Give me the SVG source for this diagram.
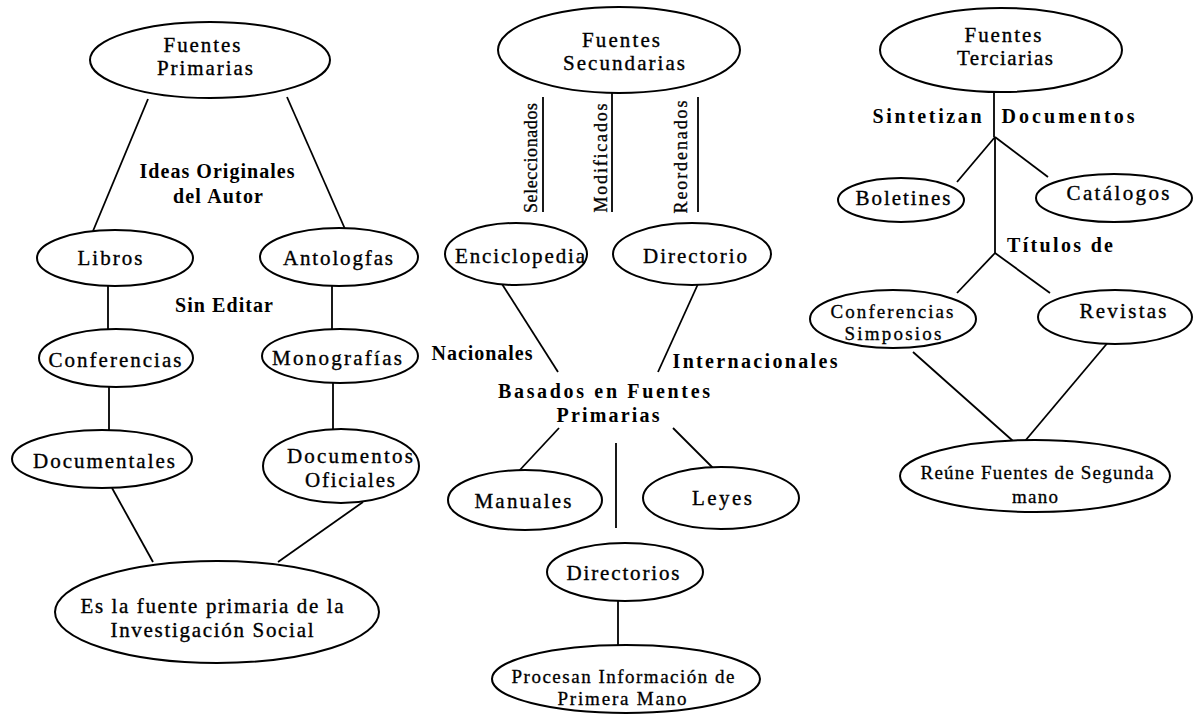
<svg xmlns="http://www.w3.org/2000/svg" width="1193" height="714" viewBox="0 0 1193 714">
<style>
.n ellipse{fill:#fff;stroke:#000;stroke-width:2}
text{font-family:"Liberation Serif","Times New Roman",serif;fill:#000;text-anchor:middle}
.t{font-size:21px;stroke:#000;stroke-width:0.35}
.s{font-size:19px;stroke:#000;stroke-width:0.3}
.b{font-size:20px;font-weight:bold}
.r{font-size:18px;stroke:#000;stroke-width:0.3}
#connectors line{stroke:#000;stroke-width:1.8}
</style>
<rect width="1193" height="714" fill="#fff"/>
<g id="connectors">
<line x1="148" y1="99" x2="93" y2="231"/>
<line x1="287" y1="97" x2="345" y2="229"/>
<line x1="108" y1="286" x2="108" y2="330"/>
<line x1="332" y1="286" x2="332" y2="330"/>
<line x1="109" y1="387" x2="109" y2="431"/>
<line x1="333" y1="382" x2="333" y2="430"/>
<line x1="112" y1="488" x2="153" y2="562"/>
<line x1="363" y1="502" x2="278" y2="562"/>
<line x1="543" y1="97" x2="543" y2="212"/>
<line x1="612" y1="93" x2="612" y2="212"/>
<line x1="698" y1="97" x2="698" y2="212"/>
<line x1="502" y1="284" x2="558" y2="372"/>
<line x1="698" y1="284" x2="658" y2="372"/>
<line x1="559" y1="428" x2="518" y2="472"/>
<line x1="616" y1="443" x2="616" y2="528"/>
<line x1="673" y1="428" x2="715" y2="470"/>
<line x1="618" y1="601" x2="618" y2="645"/>
<line x1="994" y1="92" x2="994" y2="137"/>
<line x1="995" y1="137" x2="995" y2="253"/>
<line x1="995" y1="137" x2="957" y2="182"/>
<line x1="995" y1="137" x2="1048" y2="177"/>
<line x1="995" y1="253" x2="957" y2="293"/>
<line x1="995" y1="253" x2="1050" y2="293"/>
<line x1="913" y1="352" x2="1013" y2="441"/>
<line x1="1110" y1="340" x2="1025" y2="441"/>
</g>
<g id="lbl-ideas"><text class="b" x="217" y="178" textLength="155" lengthAdjust="spacing">Ideas Originales</text><text class="b" x="218" y="203" textLength="90" lengthAdjust="spacing">del Autor</text></g>
<g id="lbl-sineditar"><text class="b" x="224" y="312" textLength="98" lengthAdjust="spacing">Sin Editar</text></g>
<g id="lbl-sel"><text class="r" transform="translate(537,158) rotate(-90)" textLength="110" lengthAdjust="spacing">Seleccionados</text></g>
<g id="lbl-mod"><text class="r" transform="translate(607,158) rotate(-90)" textLength="109" lengthAdjust="spacing">Modificados</text></g>
<g id="lbl-reo"><text class="r" transform="translate(687,157) rotate(-90)" textLength="113" lengthAdjust="spacing">Reordenados</text></g>
<g id="lbl-nac"><text class="b" x="482" y="360" textLength="101" lengthAdjust="spacing">Nacionales</text></g>
<g id="lbl-int"><text class="b" x="755" y="368" textLength="165" lengthAdjust="spacing">Internacionales</text></g>
<g id="lbl-basados"><text class="b" x="604" y="398" textLength="212" lengthAdjust="spacing">Basados en Fuentes</text><text class="b" x="608" y="422" textLength="103" lengthAdjust="spacing">Primarias</text></g>
<g id="lbl-sint"><text class="b" x="927" y="123" textLength="109" lengthAdjust="spacing">Sintetizan</text></g>
<g id="lbl-doc"><text class="b" x="1068" y="123" textLength="133" lengthAdjust="spacing">Documentos</text></g>
<g id="lbl-tit"><text class="b" x="1060" y="252" textLength="106" lengthAdjust="spacing">Títulos de</text></g>

<g id="fuentes-primarias" class="n"><ellipse cx="210" cy="60" rx="120" ry="38"/><text class="t" x="202" y="52" textLength="77" lengthAdjust="spacing">Fuentes</text><text class="t" x="205" y="75" textLength="96" lengthAdjust="spacing">Primarias</text></g>
<g id="libros" class="n"><ellipse cx="115" cy="258" rx="78" ry="28"/><text class="t" x="110" y="265" textLength="65" lengthAdjust="spacing">Libros</text></g>
<g id="antologias" class="n"><ellipse cx="339" cy="257" rx="79" ry="29"/><text class="t" x="338" y="265" textLength="110" lengthAdjust="spacing">Antologfas</text></g>
<g id="conferencias" class="n"><ellipse cx="116" cy="358" rx="77" ry="29"/><text class="t" x="115" y="367" textLength="133" lengthAdjust="spacing">Conferencias</text></g>
<g id="monografias" class="n"><ellipse cx="340" cy="356" rx="78" ry="27"/><text class="t" x="337" y="365" textLength="130" lengthAdjust="spacing">Monografías</text></g>
<g id="documentales" class="n"><ellipse cx="102" cy="459" rx="90" ry="29"/><text class="t" x="104" y="468" textLength="142" lengthAdjust="spacing">Documentales</text></g>
<g id="documentos-oficiales" class="n"><ellipse cx="341" cy="466" rx="78" ry="37"/><text class="t" x="350" y="463" textLength="126" lengthAdjust="spacing">Documentos</text><text class="t" x="350" y="487" textLength="90" lengthAdjust="spacing">Oficiales</text></g>
<g id="es-la-fuente" class="n"><ellipse cx="217" cy="612" rx="162" ry="51"/><text class="t" x="212" y="613" textLength="263" lengthAdjust="spacing">Es la fuente primaria de la</text><text class="t" x="212" y="637" textLength="203" lengthAdjust="spacing">Investigación Social</text></g>

<g id="fuentes-secundarias" class="n"><ellipse cx="619" cy="50" rx="121" ry="43"/><text class="t" x="621" y="47" textLength="78" lengthAdjust="spacing">Fuentes</text><text class="t" x="624" y="70" textLength="122" lengthAdjust="spacing">Secundarias</text></g>
<g id="enciclopedia" class="n"><ellipse cx="516" cy="254" rx="71" ry="31"/><text class="t" x="520" y="263" textLength="130" lengthAdjust="spacing">Enciclopedia</text></g>
<g id="directorio" class="n"><ellipse cx="692" cy="254" rx="79" ry="31"/><text class="t" x="695" y="263" textLength="104" lengthAdjust="spacing">Directorio</text></g>
<g id="manuales" class="n"><ellipse cx="525" cy="500" rx="77" ry="30"/><text class="t" x="523" y="508" textLength="97" lengthAdjust="spacing">Manuales</text></g>
<g id="leyes" class="n"><ellipse cx="721" cy="498" rx="78" ry="31"/><text class="t" x="722" y="505" textLength="60" lengthAdjust="spacing">Leyes</text></g>
<g id="directorios" class="n"><ellipse cx="625" cy="572" rx="78" ry="29"/><text class="t" x="623" y="580" textLength="113" lengthAdjust="spacing">Directorios</text></g>
<g id="procesan" class="n"><ellipse cx="626" cy="679" rx="134" ry="34"/><text class="s" x="623" y="683" textLength="223" lengthAdjust="spacing">Procesan Información de</text><text class="s" x="622" y="705" textLength="129" lengthAdjust="spacing">Primera Mano</text></g>

<g id="fuentes-terciarias" class="n"><ellipse cx="1001" cy="50" rx="121" ry="42"/><text class="t" x="1003" y="42" textLength="77" lengthAdjust="spacing">Fuentes</text><text class="t" x="1005" y="65" textLength="96" lengthAdjust="spacing">Terciarias</text></g>
<g id="boletines" class="n"><ellipse cx="901" cy="200" rx="63" ry="22"/><text class="t" x="903" y="205" textLength="95" lengthAdjust="spacing">Boletines</text></g>
<g id="catalogos" class="n"><ellipse cx="1114" cy="198" rx="78" ry="24"/><text class="t" x="1118" y="200" textLength="103" lengthAdjust="spacing">Catálogos</text></g>
<g id="conferencias-simposios" class="n"><ellipse cx="893" cy="319" rx="83" ry="29"/><text class="s" x="892" y="318" textLength="123" lengthAdjust="spacing">Conferencias</text><text class="s" x="893" y="340" textLength="97" lengthAdjust="spacing">Simposios</text></g>
<g id="revistas" class="n"><ellipse cx="1115" cy="317" rx="77" ry="27"/><text class="t" x="1123" y="318" textLength="87" lengthAdjust="spacing">Revistas</text></g>
<g id="reune" class="n"><ellipse cx="1035" cy="476" rx="135" ry="36"/><text class="s" x="1037" y="479" textLength="233" lengthAdjust="spacing">Reúne Fuentes de Segunda</text><text class="s" x="1035" y="503" textLength="46" lengthAdjust="spacing">mano</text></g>
</svg>
